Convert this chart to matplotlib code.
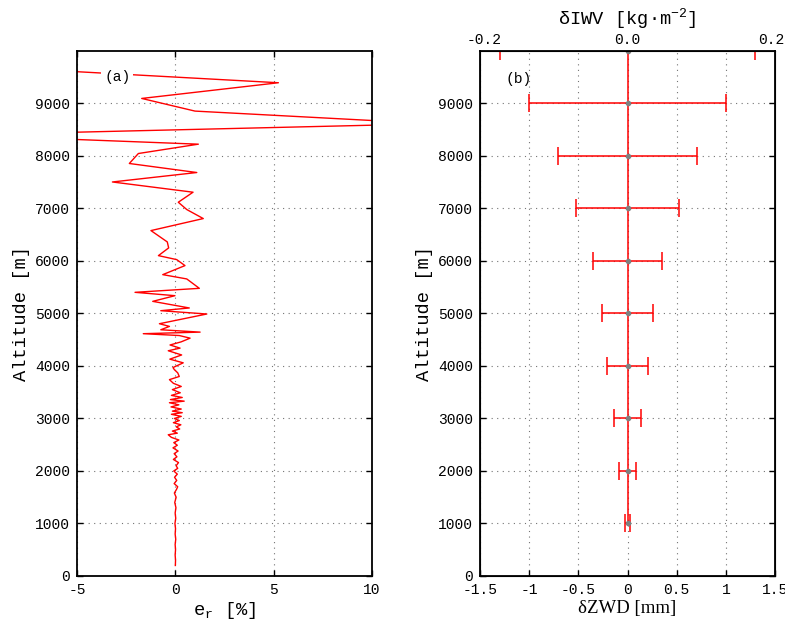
import numpy as np
import matplotlib
matplotlib.use("Agg")
from matplotlib import pyplot as plt

plt.rcParams['font.family'] = ['Liberation Mono', 'DejaVu Sans Mono']
plt.rcParams['mathtext.fontset'] = 'custom'
plt.rcParams['mathtext.rm'] = 'Liberation Mono'
plt.rcParams['mathtext.it'] = 'Liberation Mono'
plt.rcParams['axes.unicode_minus'] = False

# panel (a): relative error profile
alt_a = [200, 300, 400, 500, 600, 700, 800, 900, 1000, 1100, 1200, 1300, 1400,
         1500, 1580, 1650, 1700, 1760, 1820, 1880, 1940, 2000, 2050, 2100,
         2160, 2220, 2270, 2330, 2380, 2440, 2490, 2540, 2590, 2640, 2690,
         2720, 2760, 2800, 2840, 2880, 2920, 2960, 3000, 3040, 3080, 3110,
         3140, 3180, 3220, 3260, 3300, 3330, 3360, 3400, 3440, 3490, 3550,
         3610, 3670, 3740, 3800, 3870, 3930, 3970, 4060, 4130, 4210, 4290,
         4340, 4400, 4460, 4530, 4580, 4615, 4645, 4690, 4754, 4805, 4990,
         5053, 5105, 5231, 5339, 5403, 5479, 5658, 5740, 5912, 6026, 6102,
         6249, 6363, 6579, 6808, 6980, 7119, 7310, 7505, 7685, 7857, 8047,
         8225, 8400, 8614, 8855, 9096, 9395, 9700]
er_a = [0.00, 0.01, -0.01, 0.01, -0.01, 0.02, -0.01, 0.01, -0.02, 0.02, -0.01, 0.03, -0.03,
        0.04, -0.05, 0.06, 0.12, -0.06, 0.07, -0.04, 0.10, -0.08, 0.12, 0.04,
        0.16, -0.10, 0.08, -0.06, 0.14, -0.12, 0.10, -0.08, 0.18, -0.20, -0.36,
        0.10, -0.15, 0.22, 0.05, 0.28, -0.10, 0.20, -0.05, 0.30, -0.20, 0.35,
        -0.15, 0.30, -0.22, 0.18, -0.30, 0.45, -0.25, 0.35, -0.20, 0.25, -0.15,
        0.30, -0.10, -0.30, 0.20, 0.12, -0.05, -0.12, 0.40, -0.28, 0.32, -0.36,
        0.24, -0.27, 0.30, 0.75, 0.20, -1.63, 1.26, -0.74, -0.30, -0.81, 1.60,
        -0.74, 0.71, -1.15, -0.02, -2.05, 1.22, 0.58, -0.64, 0.49, 0.07, -0.86,
        -0.34, -0.41, -1.24, 1.42, 0.58, 0.15, 0.90, -3.20, 1.09, -2.34, -1.88,
        1.17, -11.0, 13.1, 1.00, -1.71, 5.24, -9.6]

# panel (b): ZWD uncertainty per altitude level
alt_b = [1000, 2000, 3000, 4000, 5000, 6000, 7000, 8000, 9000, 10000]
dzwd_b = [0.03, 0.09, 0.14, 0.21, 0.26, 0.35, 0.52, 0.71, 1.00, 1.30]
zero_b = [0.0] * len(alt_b)

yticks = [0, 1000, 2000, 3000, 4000, 5000, 6000, 7000, 8000, 9000]
xticks_a = [-5, 0, 5, 10]
xticks_b = [-1.5, -1, -0.5, 0, 0.5, 1, 1.5]
xticklabels_b = ['-1.5', '-1', '-0.5', '0', '0.5', '1', '1.5']
top_ticks = [-0.2, 0.0, 0.2]
top_labels = ['-0.2', '0.0', '0.2']

fig = plt.figure(figsize=(7.85, 6.21), dpi=100)
ax1 = fig.add_axes([0.0981, 0.0725, 0.3758, 0.8454])
ax2 = fig.add_axes([0.6115, 0.0725, 0.3758, 0.8454])

grid_kw = dict(color='0.45', linestyle=(0, (1, 4)), linewidth=0.8)

def style(ax):
    for s in ax.spines.values():
        s.set_linewidth(1.3)
    ax.set_ylim(0, 10000)
    ax.set_yticks(yticks)
    ax.grid(True, **grid_kw)
    ax.tick_params(direction='in', length=4, labelsize=10.5, width=1, pad=5)
    ax.set_ylabel('Altitude [m]', fontsize=13.5, labelpad=4)

# (a)
ax1.plot(er_a, alt_a, color='red', linewidth=1.0)
ax1.set_xlim(-5, 10)
ax1.set_xticks(xticks_a)
style(ax1)
ax1.tick_params(top=True, right=True)
ax1.set_xlabel(r'e$_{\mathrm{r}}$ [%]', fontsize=13.5, labelpad=2)
ax1.text(-2.96, 9500, '(a)', fontsize=10.5, ha='center', va='center',
         bbox=dict(facecolor='white', edgecolor='none', pad=2))

# (b)
ax2.errorbar(zero_b, alt_b, xerr=dzwd_b, color='red', ecolor='red', linewidth=1.1,
             elinewidth=1.1, capsize=6.5, capthick=1.1, marker='o', markersize=3,
             markerfacecolor='0.5', markeredgecolor='0.5')
ax2.set_xlim(-1.5, 1.5)
ax2.set_xticks(xticks_b)
ax2.set_xticklabels(xticklabels_b)
style(ax2)
ax2.tick_params(right=True)
ax2.set_xlabel('δZWD [mm]', fontsize=13.5, family=['Liberation Serif', 'DejaVu Serif'], labelpad=2)
ax2.text(-1.11, 9460, '(b)', fontsize=10.5, ha='center', va='center')

top = ax2.twiny()
top.set_xlim(-0.205, 0.205)
top.set_xticks(top_ticks)
top.set_xticklabels(top_labels)
top.tick_params(length=0, labelsize=10.5, pad=3)
top.set_xlabel(r'δIWV [kg·m$^{-2}$]', fontsize=13.5, labelpad=6)

fig.savefig('out.png', dpi=100)
